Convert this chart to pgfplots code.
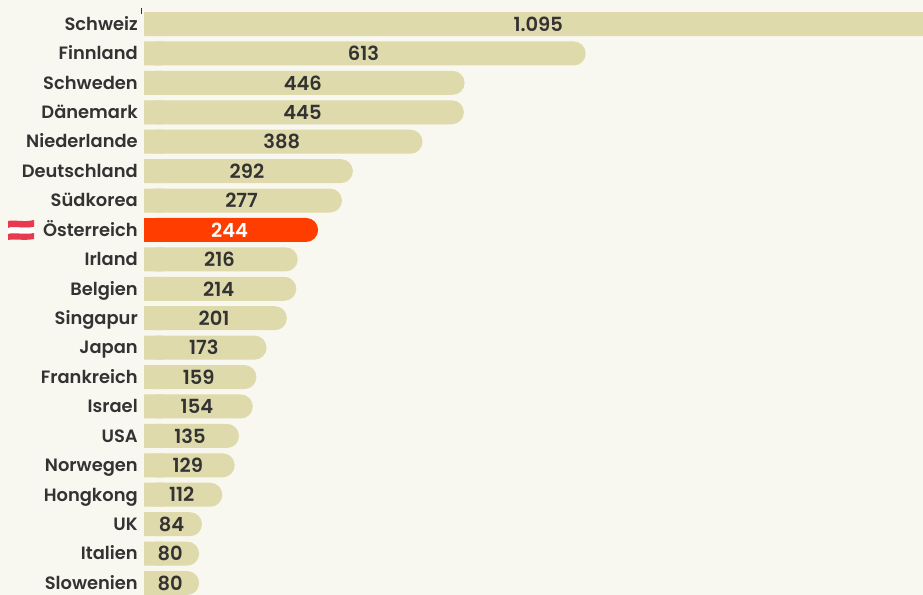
\documentclass[border=0pt]{standalone}
\usepackage{pgfplots}
\usepackage{pgfplotstable}
\usepackage{fontspec}
\setmainfont{Poppins}[UprightFont=* Medium,BoldFont=* SemiBold]
\pgfplotsset{compat=1.18}
\definecolor{bg}{HTML}{F9F8F0}
\definecolor{barc}{HTML}{DFDAAB}
\definecolor{hi}{HTML}{FF3D00}
\definecolor{ink}{HTML}{333333}
\definecolor{flagred}{HTML}{E8394F}
\pgfplotstableread{
y v base mid label
0 1095 30 547.5 1.095
1 613 30 306.5 613
2 446 30 223 446
3 445 30 222.5 445
4 388 30 194 388
5 292 30 146 292
6 277 30 138.5 277
8 216 30 108 216
9 214 30 107 214
10 201 30 100.5 201
11 173 30 86.5 173
12 159 30 79.5 159
13 154 30 77 154
14 135 30 67.5 135
15 129 30 64.5 129
16 112 30 56 112
17 84 30 42 84
18 80 30 40 80
19 80 30 40 80
}\rest
\pgfplotstableread{
y v base mid label
7 244 30 122 244
}\aut
\begin{document}
\begin{tikzpicture}[x=0.75pt,y=-0.75pt]
\fill[bg] (0,0) rectangle (923,595);
\begin{axis}[
  at={(108pt,-446.25pt)},anchor=south west,
  scale only axis,width=584.25pt,height=446.25pt,
  xmin=4,xmax=1078,ymin=-0.816,ymax=19.408,y dir=reverse,
  axis line style={draw=none},
  xtick=\empty,
  ytick={0,...,19},
  yticklabels={Schweiz,Finnland,Schweden,Dänemark,Niederlande,Deutschland,Südkorea,Österreich,Irland,Belgien,Singapur,Japan,Frankreich,Israel,USA,Norwegen,Hongkong,UK,Italien,Slowenien},
  y tick label style={font=\bfseries\fontsize{13.4pt}{15pt}\selectfont,text=ink,anchor=east,xshift=-4.5pt,yshift=-1.3pt,inner xsep=0pt,inner ysep=0pt,text height=10pt,text depth=3.2pt},
  major tick length=0pt,
  tick align=outside,
  xbar,bar shift=0pt,bar width=18pt,
]
\addplot[fill=barc,draw=none,rounded corners=9pt] table[x=v,y=y]{\rest};
\addplot[fill=barc,draw=none] table[x=base,y=y]{\rest};
\addplot[fill=hi,draw=none,rounded corners=9pt] table[x=v,y=y]{\aut};
\addplot[fill=hi,draw=none] table[x=base,y=y]{\aut};
\addplot[only marks,mark=none,xbar=0pt,draw=none,fill=none,point meta=explicit symbolic,nodes near coords,
  every node near coord/.style={anchor=center,text=ink,font=\bfseries\fontsize{14.6pt}{15pt}\selectfont,inner sep=0pt}]
  table[x=mid,y=y,meta=label]{\rest};
\addplot[only marks,mark=none,xbar=0pt,draw=none,fill=none,point meta=explicit symbolic,nodes near coords,
  every node near coord/.style={anchor=center,text=white,font=\bfseries\fontsize{14.6pt}{15pt}\selectfont,inner sep=0pt}]
  table[x=mid,y=y,meta=label]{\aut};
\end{axis}
\draw[ink,line width=0.6pt] (141.5,8) -- (141.5,14);
\fill[flagred] (8,221) .. controls (14,219.5) and (24,222.5) .. (34,220) -- (34,227) .. controls (24,229) and (14,226) .. (8,228) -- cycle;
\fill[white] (8,228) .. controls (14,226) and (24,229) .. (34,227) -- (34,233) .. controls (24,235) and (14,232) .. (8,234) -- cycle;
\fill[flagred] (8,234) .. controls (14,232) and (24,235) .. (34,233) -- (34,239) .. controls (24,241) and (14,238.5) .. (8,240) -- cycle;
\pgfresetboundingbox
\path[use as bounding box] (0,0) rectangle (923,595);
\end{tikzpicture}
\end{document}
